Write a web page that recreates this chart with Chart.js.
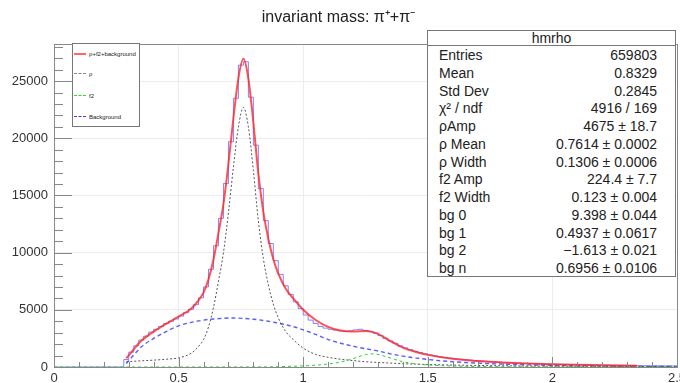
<!DOCTYPE html>
<html>
<head>
<meta charset="utf-8">
<script src="https://cdn.jsdelivr.net/npm/chart.js@4.4.1/dist/chart.umd.min.js"></script>
<style>
  body { margin: 0; background: #fff; }
  #wrap { position: relative; width: 680px; height: 383px; font-family: "Liberation Sans", Arial, sans-serif; }
  #stats { position: absolute; left: 427px; top: 30px; width: 249px; height: 247px; box-sizing: border-box;
           border: 1px solid #777; background: #fff; color: #222; }
  #stats .head { height: 14px; line-height: 14px; font-size: 14px; text-align: center; border-bottom: 1px solid #777; }
  #stats .rows { padding-top: 1px; }
  #stats .row { display: flex; justify-content: space-between; height: 17.75px; line-height: 17.75px;
                font-size: 14px; padding: 0 18px 0 11px; }
  #legend { position: absolute; left: 72px; top: 43px; width: 68px; height: 84px; box-sizing: border-box;
            border: 1px solid #777; background: #fff; }
  #legend .item { position: absolute; left: 0; height: 8px; font-size: 6px; line-height: 8px; color: #222; white-space: nowrap; }
  #legend .sample { position: absolute; left: 1px; top: 3px; width: 12px; }
  #legend .label { position: absolute; left: 16px; top: 0; }
</style>
</head>
<body>
<div id="wrap">
  <canvas id="massChart" width="680" height="383"></canvas>
  <div id="legend"></div>
  <div id="stats"><div class="head">hmrho</div><div class="rows"></div></div>
</div>
<script>
// histogram: bin contents, 0.02 wide, starting at 0.28
const histStart = 0.28;
const binWidth = 0.02;
const counts = [
  650, 1300, 1850, 2350, 2700, 3050, 3300, 3550, 3800, 4000,
  4200, 4450, 4750, 5050, 5450, 6050, 7000, 8550, 10600, 13000,
  16050, 19700, 23500, 26400, 26700, 23600, 19400, 15600, 12800, 10800,
  9300, 8100, 7100, 6350, 5700, 5100, 4550, 4100, 3800, 3550,
  3400, 3300, 3220, 3150, 3100, 3150, 3250, 3300, 3200, 3100,
  2950, 2750, 2500, 2280, 2080, 1850, 1680, 1520, 1380, 1260,
  1150, 1060, 980, 900, 830, 770, 720, 680, 640, 600,
  560, 525, 495, 465, 440, 410, 390, 370, 350, 330,
  310, 295, 280, 265, 250, 238,
  230, 220, 210, 200, 190, 182, 175, 168, 162, 155,
  148, 143, 138, 133, 128, 124, 120, 116, 112, 108,
  104, 100, 96, 93, 90
];

// fit curves
const fitX = [0.29, 0.30, 0.32, 0.35, 0.40, 0.45, 0.50, 0.55, 0.58, 0.60, 0.62, 0.64, 0.66, 0.68, 0.70, 0.72,
  0.74, 0.76, 0.78, 0.80, 0.82, 0.84, 0.86, 0.88, 0.90, 0.93, 0.96, 1.00, 1.05, 1.10, 1.15, 1.20,
  1.25, 1.28, 1.30, 1.35, 1.40, 1.45, 1.50, 1.60, 1.70, 1.80, 1.90, 2.00, 2.10, 2.20, 2.34, 2.50];
const totalFit = [750, 1020, 1550, 2290, 3100, 3780, 4400, 5100, 5830, 6500, 7660, 9400, 11730, 14260, 17780, 21780,
  25270, 26950, 25220, 21380, 16930, 13570, 11210, 9440, 8170, 6850, 6000, 5000, 4110, 3510, 3190, 3110,
  3140, 3050, 2900, 2270, 1700, 1330, 1060, 715, 520, 390, 302, 235, 186, 149, 112];
const rhoFit = [450, 470, 500, 540, 600, 680, 800, 1200, 1800, 2400, 3500, 5200, 7500, 10000, 13500, 17500,
  21000, 22700, 21000, 17200, 12800, 9500, 7200, 5500, 4300, 3100, 2400, 1650, 1100, 850, 680, 560,
  460, 420, 400, 340, 290, 250, 220, 170, 135, 110, 90, 75, 65, 55, 46, 37];
const bgFit = [300, 550, 1050, 1750, 2500, 3100, 3600, 3900, 4030, 4100, 4160, 4200, 4230, 4260, 4280, 4280,
  4270, 4250, 4220, 4180, 4130, 4070, 4000, 3920, 3840, 3700, 3530, 3250, 2850, 2400, 2080, 1820,
  1600, 1480, 1400, 1150, 950, 800, 660, 460, 340, 250, 190, 145, 110, 85, 60, 42];
const f2X = [0, 0.5, 0.8, 0.86, 0.88, 0.90, 0.93, 0.96, 1.00, 1.05, 1.10, 1.15, 1.20, 1.25, 1.28, 1.30,
  1.35, 1.40, 1.45, 1.50, 1.60, 1.70, 1.80, 1.90, 2.00, 2.10, 2.20, 2.34, 2.50];
const f2Fit = [0, 2, 6, 10, 20, 30, 50, 70, 100, 160, 260, 430, 730, 1080, 1150, 1100,
  780, 460, 280, 180, 85, 45, 30, 22, 15, 11, 9, 6, 4];

const xTicks = [0, 0.5, 1, 1.5, 2, 2.5];
const yTicks = [0, 5000, 10000, 15000, 20000, 25000];

const legendNames = ['ρ+f2+background', 'ρ', 'f2', 'Background'];
const statLabels = ['Entries', 'Mean', 'Std Dev', 'χ² / ndf', 'ρAmp', 'ρ Mean', 'ρ Width', 'f2 Amp', 'f2 Width', 'bg 0', 'bg 1', 'bg 2', 'bg n'];
const statValues = ['659803', '0.8329', '0.2845', '4916 / 169', '4675 ± 18.7', '0.7614 ± 0.0002', '0.1306 ± 0.0006',
  '224.4 ± 7.7', '0.123 ± 0.004', '9.398 ± 0.044', '0.4937 ± 0.0617', '−1.613 ± 0.021', '0.6956 ± 0.0106'];

const FONT = '"Liberation Sans", Arial, sans-serif';

// histogram points at bin edges
const histPts = [{ x: 0, y: 0 }];
counts.forEach((c, i) => histPts.push({ x: histStart + i * binWidth, y: c }));
histPts.push({ x: histStart + counts.length * binWidth, y: counts[counts.length - 1] });

const pts = (xs, ys) => ys.map((v, i) => ({ x: xs[i], y: v }));

// ROOT style ticks inside the frame + frame box
const rootFrame = {
  id: 'rootFrame',
  afterDatasetsDraw(chart) {
    const { ctx, chartArea: a, scales: { x, y } } = chart;
    ctx.save();
    ctx.strokeStyle = '#888';
    ctx.lineWidth = 1;
    ctx.beginPath();
    for (let i = 0; i <= 25; i++) {
      const px = Math.round(x.getPixelForValue(i / 10)) + 0.5;
      const len = i % 5 === 0 ? 10 : 5;
      ctx.moveTo(px, a.bottom);
      ctx.lineTo(px, a.bottom - len);
    }
    for (let k = 0; k <= 28; k++) {
      const py = Math.round(y.getPixelForValue(k * 1000)) + 0.5;
      const len = k % 5 === 0 ? 18 : 9;
      ctx.moveTo(a.left, py);
      ctx.lineTo(a.left + len, py);
    }
    ctx.stroke();
    ctx.strokeRect(Math.round(a.left) + 0.5, Math.round(a.top) + 0.5, Math.round(a.right - a.left), Math.round(a.bottom - a.top));
    ctx.restore();
  }
};

new Chart(document.getElementById('massChart').getContext('2d'), {
  type: 'line',
  data: {
    datasets: [
      { label: legendNames[0], data: pts(fitX, totalFit), borderColor: 'rgba(255,40,40,0.8)', borderWidth: 2,
        cubicInterpolationMode: 'monotone', pointRadius: 0 },
      { label: legendNames[2], data: pts(f2X, f2Fit), borderColor: '#2fcc2f', borderWidth: 1, borderDash: [3, 3],
        cubicInterpolationMode: 'monotone', pointRadius: 0 },
      { label: legendNames[1], data: pts(fitX, rhoFit), borderColor: '#555', borderWidth: 1, borderDash: [2, 2],
        cubicInterpolationMode: 'monotone', pointRadius: 0 },
      { label: legendNames[3], data: pts(fitX, bgFit), borderColor: 'rgba(50,50,255,0.8)', borderWidth: 1.4, borderDash: [4, 3],
        cubicInterpolationMode: 'monotone', pointRadius: 0 },
      { label: 'hmrho', data: histPts, borderColor: 'rgba(90,90,255,0.75)', borderWidth: 1, stepped: 'before', pointRadius: 0 }
    ]
  },
  options: {
    responsive: false,
    animation: false,
    layout: { padding: { left: 0, right: 3, top: 0, bottom: 0 } },
    plugins: {
      legend: { display: false },
      tooltip: { enabled: false },
      title: {
        display: true,
        text: 'invariant mass: π⁺+π⁻',
        color: '#222',
        font: { family: FONT, size: 16, weight: 'normal' },
        padding: { top: 8, bottom: 17 }
      }
    },
    scales: {
      x: {
        type: 'linear', min: 0, max: 2.5,
        afterBuildTicks: s => { s.ticks = xTicks.map(v => ({ value: v })); },
        ticks: { color: '#333', font: { family: FONT, size: 13 }, padding: 4, maxRotation: 0, autoSkip: false,
                 callback: v => String(v) },
        grid: { color: '#ececec', drawTicks: false },
        border: { display: false },
        afterFit: s => { s.height = 16; s.paddingLeft = 0; s.paddingRight = 0; }
      },
      y: {
        type: 'linear', min: 0, max: 28230,
        afterBuildTicks: s => { s.ticks = yTicks.map(v => ({ value: v })); },
        ticks: { color: '#333', font: { family: FONT, size: 13 }, padding: 6, callback: v => String(v) },
        grid: { color: '#ececec', drawTicks: false },
        border: { display: false },
        afterFit: s => { s.width = 54; s.paddingTop = 0; s.paddingBottom = 0; }
      }
    }
  },
  plugins: [rootFrame]
});

// legend box
const legendStyles = ['border-top:2px solid rgba(255,40,40,0.7)', 'border-top:1px dashed #888',
  'border-top:1px dashed #22dd22', 'border-top:1px dashed #3a3aff'];
const legendTops = [6, 26, 48, 69];
const legendEl = document.getElementById('legend');
legendNames.forEach((name, i) => {
  const item = document.createElement('div');
  item.className = 'item';
  item.style.top = legendTops[i] + 'px';
  item.innerHTML = '<span class="sample" style="' + legendStyles[i] + '"></span><span class="label">' + name + '</span>';
  legendEl.appendChild(item);
});

// stats box
const rowsEl = document.querySelector('#stats .rows');
statLabels.forEach((lab, i) => {
  const row = document.createElement('div');
  row.className = 'row';
  row.innerHTML = '<span>' + lab + '</span><span>' + statValues[i] + '</span>';
  rowsEl.appendChild(row);
});
</script>
</body>
</html>
